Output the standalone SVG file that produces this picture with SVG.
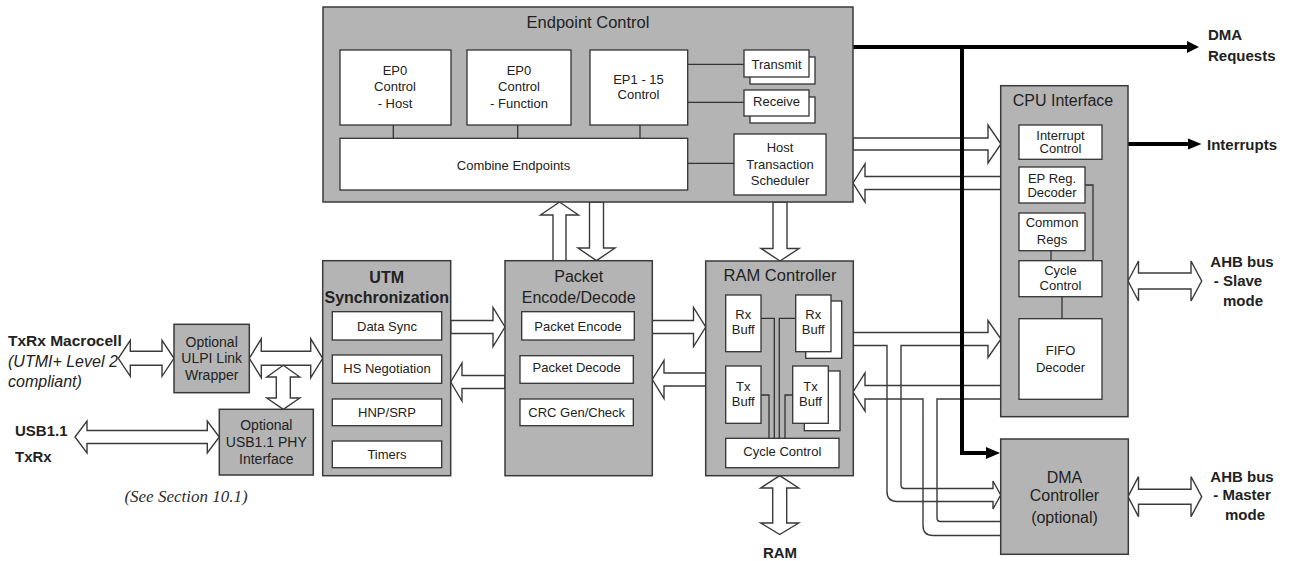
<svg xmlns="http://www.w3.org/2000/svg" width="1290" height="561" viewBox="0 0 1290 561">
<style>
.g{fill:#b4b4b4;stroke:#3a3a3a;stroke-width:1.5}
.w{fill:#fff;stroke:#333;stroke-width:1.3}
.ln{fill:none;stroke:#333;stroke-width:1.3}
.af{fill:#fff;stroke:none}
.as{fill:none;stroke:#3a3a3a;stroke-width:1.4;stroke-linejoin:miter}
.bk{fill:none;stroke:#000;stroke-width:4}
.bh{fill:#000}
text{font-family:"Liberation Sans",Arial,sans-serif;fill:#222}
.t13{font-size:13px;text-anchor:middle}
.t14{font-size:14px;text-anchor:middle}
.t16{font-size:16px;text-anchor:middle}
.b15{font-size:15px;font-weight:bold}
.it{font-size:16px;font-style:italic}
</style>
<defs>
<path id="a1" d="M450.7 320.5 H493 V307.5 L505 327 L493 346.5 V333.5 H450.7 Z"/>
<path id="a2" d="M505 375.5 H462 V363 L450.7 382 L462 401 V388.5 H505 Z"/>
<path id="a3" d="M652.3 320.5 H693.5 V307.5 L705.7 327 L693.5 346.5 V333.5 H652.3 Z"/>
<path id="a4" d="M705.7 373 H664 V360.5 L652.3 379.5 L664 398.5 V386 H705.7 Z"/>
<path id="a5" d="M553 260.7 V215 H540.5 L559.5 202 L578.5 215 H566 V260.7 Z"/>
<path id="a6" d="M589.5 202 V248 H578 L596.5 260.7 L615 248 H603.5 V202 Z"/>
<path id="a7" d="M773 202 V248.5 H761 L780 261 L799 248.5 H787 V202 Z"/>
<path id="a8" d="M779.7 475.7 L798.7 488 H786.7 V523 H798.7 L779.7 534.5 L760.7 523 H772.7 V488 H760.7 Z"/>
<path id="a9" d="M853 138 H988 V125 L1001 144 L988 163 V150 H853 Z"/>
<path id="a10" d="M1001 176.5 H865 V164 L853 183 L865 202 V189.5 H1001 Z"/>
<path id="a11" d="M853 332.5 H988 V320.5 L1001 339 L988 357.5 V345.5 H901 V485 Q901 488.5 904.5 488.5 H993 V481 L1000.7 495 L993 509 V501.5 H897 Q887 501.5 887 491.5 V345.5 H853 Z"/>
<path id="a12" d="M1001 385.5 H865 V373 L853 392 L865 411 V399 H923 V525.5 Q923 535.5 933 535.5 H1001 V521.5 H940.5 Q937 521.5 937 518 V399 H1001 Z"/>
<path id="a13" d="M1128 281 L1138.5 261 V273 H1191 V261 L1201.7 281 L1191 301 V289 H1138.5 V301 Z"/>
<path id="a14" d="M1128 496.7 L1138.5 476.7 V489.2 H1191 V476.7 L1201.7 496.7 L1191 516.7 V504.2 H1138.5 V516.7 Z"/>
<path id="a15" d="M118.3 358.3 L130.3 340.3 V351.3 H162 V340.3 L174 358.3 L162 376.3 V365.3 H130.3 V376.3 Z"/>
<path id="a16" d="M249.3 358.3 L261.3 338.8 V351.3 H310.7 V338.8 L322.7 358.3 L310.7 377.8 V365.3 H261.3 V377.8 Z"/>
<path id="a18" d="M75 437 L87 421 V430.5 H207.3 V421 L219.3 437 L207.3 453 V443.5 H87 V453 Z"/>
</defs>

<g id="connectors">
<g id="block-arrow-fills" class="af">
<use href="#a1"/><use href="#a2"/><use href="#a3"/><use href="#a4"/><use href="#a5"/><use href="#a6"/>
<use href="#a7"/><use href="#a8"/><use href="#a9"/><use href="#a10"/><use href="#a11"/><use href="#a12"/>
<use href="#a13"/><use href="#a14"/><use href="#a15"/><use href="#a16"/><use href="#a18"/>
</g>
<g id="block-arrow-outlines" class="as">
<use href="#a1"/><use href="#a2"/><use href="#a3"/><use href="#a4"/><use href="#a5"/><use href="#a6"/>
<use href="#a7"/><use href="#a8"/><use href="#a9"/><use href="#a10"/><use href="#a11"/><use href="#a12"/>
<use href="#a13"/><use href="#a14"/><use href="#a15"/><use href="#a16"/><use href="#a18"/>
</g>
<path class="af" d="M283.3 366.5 L299.8 377 H290.3 V398 H299.8 L283.3 409.3 L266.8 398 H276.3 V377 H266.8 Z"/>
<path class="as" d="M276.3 377 H266.8 L283.3 365.3 L299.8 377 H290.3 V398 H299.8 L283.3 409.3 L266.8 398 H276.3 Z"/>
<g id="black-lines">
<path class="bk" d="M853 47 H1189"/>
<polygon class="bh" points="1187,41 1199,47 1187,53"/>
<path class="bk" d="M962 47 V453 H988"/>
<polygon class="bh" points="986,447 1000,453 986,459"/>
<path class="bk" d="M1128 144 H1190"/>
<polygon class="bh" points="1188,138.5 1201.5,144 1188,149.5"/>
</g>
</g>

<g id="endpoint-control">
<rect class="g" x="323" y="7" width="530" height="195"/>
<text class="t16" x="588" y="27.5" style="font-size:16.5px">Endpoint Control</text>
<path class="ln" d="M393.3 125 V138.3 M517.7 125 V138.3 M640 125 V138.3 M687.7 64.3 H744 M687.7 102.3 H744 M687.7 163.3 H734"/>
</g>
<g id="ep0-host">
<rect class="w" x="340" y="50" width="111" height="75"/>
<text class="t13" x="395" y="74.5">EP0</text>
<text class="t13" x="395" y="91">Control</text>
<text class="t13" x="395" y="107.5">- Host</text>
</g>
<g id="ep0-function">
<rect class="w" x="467" y="50" width="104" height="75"/>
<text class="t13" x="519" y="74.5">EP0</text>
<text class="t13" x="519" y="91">Control</text>
<text class="t13" x="519" y="107.5">- Function</text>
</g>
<g id="ep1-15">
<rect class="w" x="590" y="50" width="97.7" height="75"/>
<text class="t13" x="638.5" y="84">EP1 - 15</text>
<text class="t13" x="638.5" y="98.7">Control</text>
</g>
<g id="transmit">
<rect class="w" x="750" y="57" width="65" height="27"/>
<rect class="w" x="744" y="50" width="65" height="27"/>
<text class="t13" x="776.5" y="69">Transmit</text>
</g>
<g id="receive">
<rect class="w" x="750" y="97" width="65" height="26"/>
<rect class="w" x="744" y="90" width="65" height="26"/>
<text class="t13" x="776.5" y="106.3">Receive</text>
</g>
<g id="combine-endpoints">
<rect class="w" x="340" y="138.3" width="347.7" height="51.7"/>
<text class="t13" x="513.5" y="169.7">Combine Endpoints</text>
</g>
<g id="host-transaction-scheduler">
<rect class="w" x="734" y="134" width="92" height="61"/>
<text class="t13" x="780" y="152">Host</text>
<text class="t13" x="780" y="169">Transaction</text>
<text class="t13" x="780" y="184.7">Scheduler</text>
</g>

<g id="utm-sync">
<rect class="g" x="322.7" y="260.7" width="128" height="215"/>
<text class="t16" x="386.7" y="282.5" font-weight="bold">UTM</text>
<text class="t16" x="386.7" y="302.5" font-weight="bold">Synchronization</text>
</g>
<g id="data-sync"><rect class="w" x="332.3" y="311.7" width="109.4" height="28.3"/><text class="t13" x="387" y="331.3">Data Sync</text></g>
<g id="hs-negotiation"><rect class="w" x="332.3" y="355" width="109.4" height="28.3"/><text class="t13" x="387" y="373.3">HS Negotiation</text></g>
<g id="hnp-srp"><rect class="w" x="332.3" y="399" width="109.4" height="26.7"/><text class="t13" x="387" y="417">HNP/SRP</text></g>
<g id="timers"><rect class="w" x="332.3" y="441" width="109.4" height="26.7"/><text class="t13" x="387" y="459">Timers</text></g>

<g id="packet-encode-decode">
<rect class="g" x="505" y="260.7" width="147.3" height="215"/>
<text class="t16" x="578.7" y="281.8">Packet</text>
<text class="t16" x="578.7" y="302.5">Encode/Decode</text>
</g>
<g id="packet-encode"><rect class="w" x="521.7" y="311.7" width="112.6" height="28.3"/><text class="t13" x="578" y="331.3">Packet Encode</text></g>
<g id="packet-decode"><rect class="w" x="520" y="355.7" width="113.3" height="27.6"/><text class="t13" x="576.7" y="372.3">Packet Decode</text></g>
<g id="crc"><rect class="w" x="520" y="399" width="113.3" height="26.7"/><text class="t13" x="576.7" y="417">CRC Gen/Check</text></g>

<g id="ram-controller">
<rect class="g" x="705.7" y="261" width="147.6" height="214.7"/>
<text class="t16" x="780" y="281" style="font-size:16.5px">RAM Controller</text>
<path class="ln" d="M761 318.3 H774.3 V438.3 M761 395 H769 V438.3 M795.7 318.3 H779.3 V438.3 M792.7 395 H785 V438.3"/>
</g>
<g id="rx-buff-1"><rect class="w" x="725.7" y="295" width="35.3" height="56.7"/><text class="t13" x="743.3" y="318.5">Rx</text><text class="t13" x="743.3" y="333.5">Buff</text></g>
<g id="rx-buff-2"><rect class="w" x="805.7" y="301" width="36" height="57.3"/><rect class="w" x="795.7" y="295" width="35.3" height="56.7"/><text class="t13" x="813.3" y="318.5">Rx</text><text class="t13" x="813.3" y="333.5">Buff</text></g>
<g id="tx-buff-1"><rect class="w" x="725.7" y="366" width="35.3" height="57.3"/><text class="t13" x="743.3" y="390.5">Tx</text><text class="t13" x="743.3" y="405.5">Buff</text></g>
<g id="tx-buff-2"><rect class="w" x="804.3" y="371" width="35.7" height="59.7"/><rect class="w" x="792.7" y="366" width="35.6" height="57.3"/><text class="t13" x="810.5" y="390.5">Tx</text><text class="t13" x="810.5" y="405.5">Buff</text></g>
<g id="ram-cycle-control"><rect class="w" x="725.7" y="438.3" width="113.3" height="29.4"/><text class="t13" x="782.3" y="456.3">Cycle Control</text></g>
<g id="ram-label"><text class="b15" x="780" y="558" text-anchor="middle">RAM</text></g>

<g id="cpu-interface">
<rect class="g" x="1000.7" y="85.7" width="127.3" height="331"/>
<text class="t16" x="1063" y="105.7">CPU Interface</text>
<path class="ln" d="M1085 185 H1093 V260.7 M1051 250.7 V260.7 M1062 296.7 V318.7"/>
</g>
<g id="interrupt-control"><rect class="w" x="1019" y="125" width="83" height="34.3"/><text class="t13" x="1060.5" y="139.6">Interrupt</text><text class="t13" x="1060.5" y="153">Control</text></g>
<g id="ep-reg-decoder"><rect class="w" x="1019" y="167" width="66" height="36"/><text class="t13" x="1052" y="183">EP Reg.</text><text class="t13" x="1052" y="197">Decoder</text></g>
<g id="common-regs"><rect class="w" x="1019" y="213" width="66" height="37.7"/><text class="t13" x="1052" y="227.3">Common</text><text class="t13" x="1052" y="244">Regs</text></g>
<g id="cpu-cycle-control"><rect class="w" x="1019" y="260.7" width="83" height="36"/><text class="t13" x="1060.5" y="274.6">Cycle</text><text class="t13" x="1060.5" y="290.3">Control</text></g>
<g id="fifo-decoder"><rect class="w" x="1019" y="318.7" width="83" height="80.6"/><text class="t13" x="1060.5" y="355.3">FIFO</text><text class="t13" x="1060.5" y="372">Decoder</text></g>

<g id="dma-controller">
<rect class="g" x="1000.7" y="439" width="127.6" height="115.3"/>
<text class="t16" x="1064.5" y="482.5">DMA</text>
<text class="t16" x="1064.5" y="500.8">Controller</text>
<text class="t16" x="1064.5" y="522.5">(optional)</text>
</g>

<g id="ulpi-wrapper">
<rect class="g" x="174" y="324.3" width="75.3" height="68.4"/>
<text class="t14" x="211.7" y="346.7">Optional</text>
<text class="t14" x="211.7" y="363.3">ULPI Link</text>
<text class="t14" x="211.7" y="380">Wrapper</text>
</g>
<g id="usb11-phy">
<rect class="g" x="219.3" y="409.3" width="94" height="65.7"/>
<text class="t14" x="266.3" y="430">Optional</text>
<text class="t14" x="266.3" y="446.7">USB1.1 PHY</text>
<text class="t14" x="266.3" y="464">Interface</text>
</g>

<g id="labels">
<text class="b15" x="8" y="345.5" style="font-size:15.5px">TxRx Macrocell</text>
<text class="it" x="8" y="367">(UTMI+ Level 2</text>
<text class="it" x="8" y="387">compliant)</text>
<text class="b15" x="15" y="435.5">USB1.1</text>
<text class="b15" x="15" y="462">TxRx</text>
<text x="186" y="501.5" text-anchor="middle" style="font-family:'Liberation Serif','Times New Roman',serif;font-style:italic;font-size:17px;fill:#2e2e2e">(See Section 10.1)</text>
<text class="b15" x="1208" y="39.5">DMA</text>
<text class="b15" x="1208" y="60.5">Requests</text>
<text class="b15" x="1207" y="149.5">Interrupts</text>
<text class="b15" x="1242" y="267" text-anchor="middle">AHB bus</text>
<text class="b15" x="1238" y="286.3" text-anchor="middle">- Slave</text>
<text class="b15" x="1243" y="306" text-anchor="middle">mode</text>
<text class="b15" x="1242" y="482" text-anchor="middle">AHB bus</text>
<text class="b15" x="1242" y="500.3" text-anchor="middle">- Master</text>
<text class="b15" x="1245" y="520.3" text-anchor="middle">mode</text>
</g>
</svg>
